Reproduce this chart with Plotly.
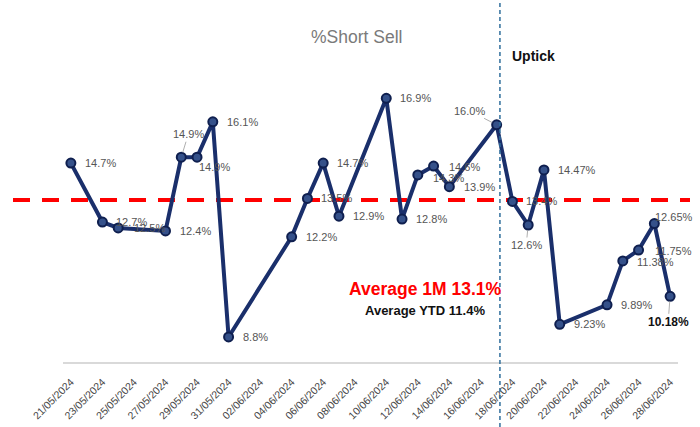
import plotly.graph_objects as go

# ---- data ----
dates = ["2024-05-21", "2024-05-23", "2024-05-24", "2024-05-27", "2024-05-28", "2024-05-29",
         "2024-05-30", "2024-05-31", "2024-06-04", "2024-06-05", "2024-06-06", "2024-06-07",
         "2024-06-10", "2024-06-11", "2024-06-12", "2024-06-13", "2024-06-14", "2024-06-17",
         "2024-06-18", "2024-06-19", "2024-06-20", "2024-06-21", "2024-06-24", "2024-06-25",
         "2024-06-26", "2024-06-27", "2024-06-28"]
short_sell_pct = [14.7, 12.7, 12.5, 12.4, 14.9, 14.9, 16.1, 8.8, 12.2, 13.5, 14.7, 12.9,
                  16.9, 12.8, 14.3, 14.6, 13.9, 16.0, 13.4, 12.6, 14.47, 9.23, 9.89, 11.38,
                  11.75, 12.65, 10.18]
value_labels = ["14.7%", "12.7%", "12.5%", "12.4%", "14.9%", "14.9%", "16.1%", "8.8%", "12.2%",
                "13.5%", "14.7%", "12.9%", "16.9%", "12.8%", "14.3%", "14.6%", "13.9%", "16.0%",
                "13.4%", "12.6%", "14.47%", "9.23%", "9.89%", "11.38%", "11.75%", "12.65%", "10.18%"]
avg_line_value = 13.45
uptick_date = "2024-06-17 05:00"
title_text = "%Short Sell"
avg_1m_text = "Average 1M 13.1%"
avg_ytd_text = "Average YTD 11.4%"
uptick_text = "Uptick"

# label placement: (mode, dx, dy) in pixels; 'r' = text left edge at point+dx, 'c' = centred with leader
label_pos = {i: ("r", 12, 0) for i in range(len(short_sell_pct))}
label_pos.update({
    2: ("r", 14, 0),
    4: ("c", 7, -23),
    5: ("r", 0, 10),
    14: ("r", 13, 3),
    15: ("r", 13, 1),
    16: ("r", 13, 0),
    17: ("c", -27, -14),
    19: ("c", -2, 20),
    23: ("r", 12, 1),
    24: ("r", 14, 1),
    25: ("r", -1, -7),
    26: ("c", -2, 26),
})

NAVY = "#1a2f6b"
FONT = "Liberation Sans, Arial, sans-serif"
LABEL_FONT = dict(family=FONT, size=11, color="#555555")

fig = go.Figure()
fig.add_trace(go.Scatter(
    x=dates, y=short_sell_pct, mode="lines+markers",
    line=dict(color=NAVY, width=4),
    marker=dict(size=9, color="#35518a", line=dict(color="#0f1f4f", width=2)),
    hoverinfo="skip", showlegend=False,
))

annotations = []
for i, (d, v, t) in enumerate(zip(dates, short_sell_pct, value_labels)):
    mode, dx, dy = label_pos[i]
    font = dict(LABEL_FONT)
    if i == len(short_sell_pct) - 1:
        font = dict(family=FONT, size=12, color="#111111")
        t = "<b>" + t + "</b>"
    if mode == "r":
        annotations.append(dict(x=d, y=v, text=t, showarrow=False, xanchor="left",
                                yanchor="middle", xshift=dx, yshift=-dy, font=font))
    else:
        annotations.append(dict(x=d, y=v, text=t, showarrow=True, arrowhead=0,
                                arrowwidth=0.8, arrowcolor="#999999", ax=dx, ay=dy,
                                standoff=5, startstandoff=0, font=font))

PW, PH, PL, PB = 615, 302, 63, 362
annotations += [
    dict(xref="paper", yref="paper", x=(356 - PL) / PW, y=(PB - 37) / PH, text=title_text,
         showarrow=False, xanchor="center", yanchor="middle",
         font=dict(family=FONT, size=17.5, color="#7a7a7a")),
    dict(xref="paper", yref="paper", x=(510 - PL) / PW, y=(PB - 56) / PH, text="<b>" + uptick_text + "</b>",
         showarrow=False, xanchor="left", yanchor="middle",
         font=dict(family=FONT, size=14, color="#111111")),
    dict(xref="paper", yref="paper", x=(425 - PL) / PW, y=(PB - 289) / PH, text="<b>" + avg_1m_text + "</b>",
         showarrow=False, xanchor="center", yanchor="middle",
         font=dict(family=FONT, size=17.5, color="#ff0000")),
    dict(xref="paper", yref="paper", x=(425 - PL) / PW, y=(PB - 310) / PH, text="<b>" + avg_ytd_text + "</b>",
         showarrow=False, xanchor="center", yanchor="middle",
         font=dict(family=FONT, size=13, color="#111111")),
]

shapes = [
    dict(type="line", xref="paper", yref="y", x0=(13 - PL) / PW, x1=(690 - PL) / PW,
         y0=avg_line_value, y1=avg_line_value,
         line=dict(color="#ff0000", width=4, dash="17px,12px"), layer="below"),
    dict(type="line", xref="x", yref="paper", x0=uptick_date, x1=uptick_date,
         y0=(PB - 427) / PH, y1=PB / PH, line=dict(color="#2f6e9c", width=1.5, dash="4px,3px")),
]

fig.update_layout(
    width=700, height=427,
    margin=dict(l=PL, r=700 - PL - PW, t=PB - PH, b=427 - PB, autoexpand=False),
    paper_bgcolor="#ffffff", plot_bgcolor="#ffffff",
    annotations=annotations, shapes=shapes,
    xaxis=dict(type="date", range=["2024-05-20 12:00", "2024-06-28 12:00"],
               tick0="2024-05-21", dtick=2 * 86400000, tickformat="%d/%m/%Y",
               tickangle=-45, tickfont=dict(family=FONT, size=10.5, color="#444444"),
               showline=True, linecolor="#d9d9d9", linewidth=1.5,
               ticks="outside", ticklen=8, tickcolor="rgba(0,0,0,0)",
               showgrid=False, zeroline=False, fixedrange=True, automargin=False),
    yaxis=dict(range=[7.95, 18.2], visible=False, showgrid=False, zeroline=False,
               fixedrange=True, automargin=False),
)

fig.write_html("out.html", config={"displayModeBar": False},
               post_script="document.body.style.margin='0px';document.body.style.overflow='hidden';")
